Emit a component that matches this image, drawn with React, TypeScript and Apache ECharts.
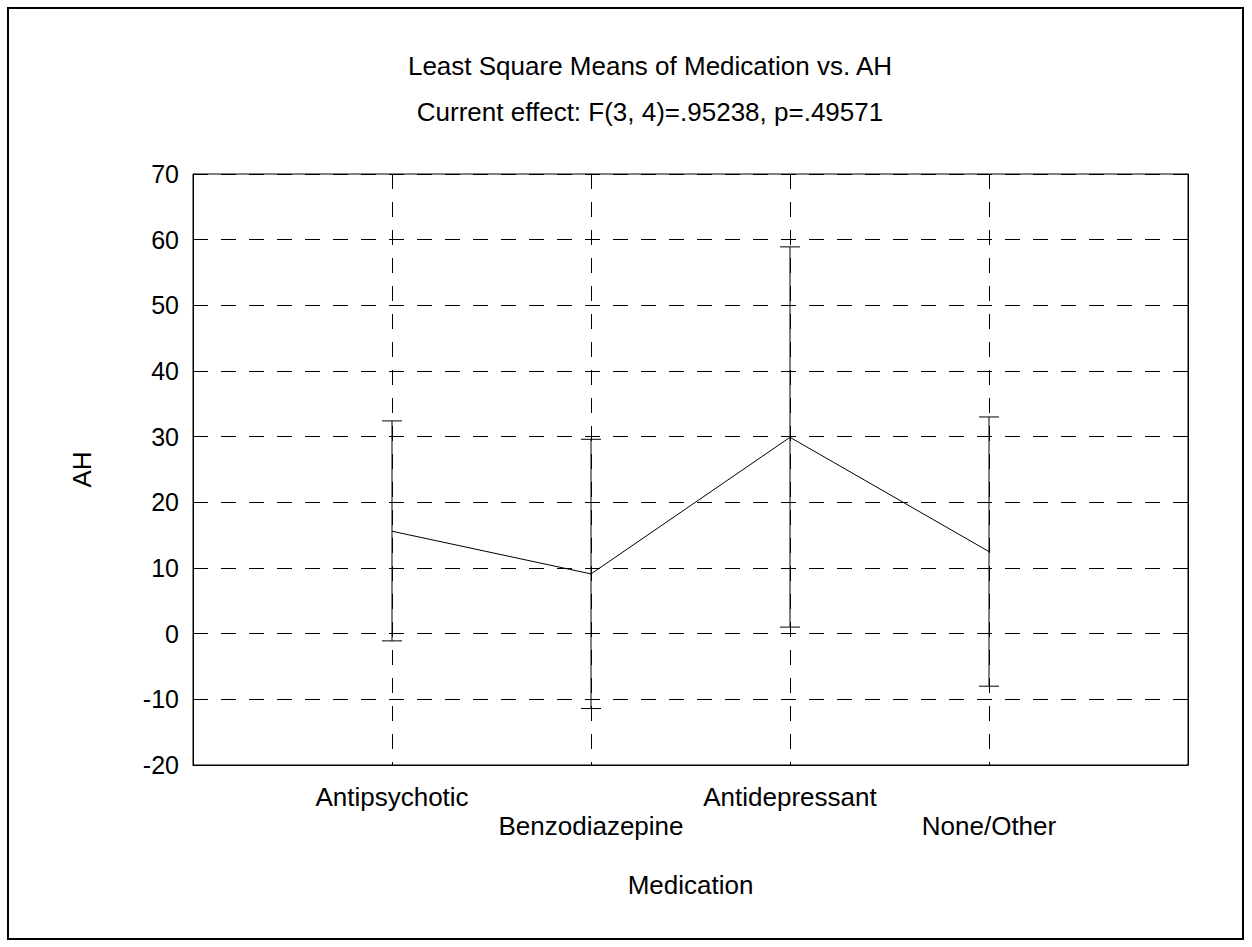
import React, { useEffect, useRef } from "react";
import * as echarts from "echarts";

const titleText = "Least Square Means of Medication vs. AH";
const subtitleText = "Current effect: F(3, 4)=.95238, p=.49571";
const xAxisName = "Medication";
const yAxisName = "AH";
const categories = ["", "Antipsychotic", "Benzodiazepine", "Antidepressant", "None/Other", ""];
const means = [null, 15.6, 9.1, 29.9, 12.5, null];
const lower = [null, -1.1, -11.4, 1.0, -8.0, null];
const upper = [null, 32.4, 29.6, 58.9, 33.0, null];
const yMin = -20;
const yMax = 70;
const yStep = 10;

const FONT = "'Liberation Sans', Arial, sans-serif";

export default function App() {
  const ref = useRef<HTMLDivElement>(null);
  useEffect(() => {
    if (!ref.current) return;
    const chart = echarts.init(ref.current, null, { renderer: "svg" });
    const errData = categories
      .map((c, i) => (means[i] == null ? null : [i, lower[i], upper[i]]))
      .filter((d) => d !== null);
    const dash = [15, 13];
    chart.setOption({
      animation: false,
      backgroundColor: "#fff",
      textStyle: { fontFamily: FONT, color: "#000" },
      title: [
        {
          text: titleText,
          left: 645,
          top: 48,
          textAlign: "center",
          textStyle: { fontFamily: FONT, fontSize: 26, fontWeight: "normal", color: "#000" },
        },
        {
          text: subtitleText,
          left: 645,
          top: 94,
          textAlign: "center",
          textStyle: { fontFamily: FONT, fontSize: 26, fontWeight: "normal", color: "#000" },
        },
      ],
      graphic: [
        {
          type: "rect",
          shape: { x: 8, y: 8, width: 1235, height: 931 },
          style: { fill: "none", stroke: "#000", lineWidth: 2 },
          silent: true,
        },
      ],
      grid: {
        left: 193,
        right: 64,
        top: 174,
        bottom: 182,
        show: true,
        borderColor: "#000",
        borderWidth: 1,
      },
      xAxis: {
        type: "category",
        data: categories,
        boundaryGap: false,
        name: xAxisName,
        nameLocation: "middle",
        nameGap: 107,
        nameTextStyle: { fontFamily: FONT, fontSize: 26, color: "#000" },
        axisLine: { show: true, onZero: false, lineStyle: { color: "#000", width: 1 } },
        axisTick: { show: false },
        axisLabel: {
          interval: 0,
          margin: 17,
          fontFamily: FONT,
          fontSize: 26,
          lineHeight: 29,
          color: "#000",
          formatter: (v: string, i: number) => (i % 2 === 0 ? "\n" + v : v),
        },
        splitLine: {
          show: true,
          interval: (i: number) => i > 0 && i < categories.length - 1,
          lineStyle: { color: "#000", width: 1, type: dash },
        },
      },
      yAxis: [
        {
          type: "value",
          min: yMin,
          max: yMax,
          interval: yStep,
          name: yAxisName,
          nameLocation: "middle",
          nameRotate: 90,
          nameGap: 98,
          nameTextStyle: { fontFamily: FONT, fontSize: 26, color: "#000" },
          axisLine: { show: true, onZero: false, lineStyle: { color: "#000", width: 1 } },
          axisTick: { show: true, inside: true, length: 12, lineStyle: { color: "#000" } },
          axisLabel: { margin: 14, fontFamily: FONT, fontSize: 25, color: "#000" },
          splitLine: { show: true, lineStyle: { color: "#000", width: 1, type: dash } },
        },
        {
          type: "value",
          min: yMin,
          max: yMax,
          interval: yStep,
          position: "right",
          axisLine: { show: true, onZero: false, lineStyle: { color: "#000", width: 1 } },
          axisTick: { show: true, inside: true, length: 3, lineStyle: { color: "#000" } },
          axisLabel: { show: false },
          splitLine: { show: false },
        },
      ],
      series: [
        {
          type: "custom",
          data: errData,
          z: 3,
          renderItem: (params: any, api: any) => {
            const x = api.value(0);
            const lo = api.coord([x, api.value(1)]);
            const hi = api.coord([x, api.value(2)]);
            const w = 10;
            const st = { stroke: "#000", lineWidth: 1 };
            return {
              type: "group",
              children: [
                { type: "line", shape: { x1: lo[0], y1: lo[1], x2: hi[0], y2: hi[1] }, style: st },
                { type: "line", shape: { x1: lo[0] - w, y1: lo[1], x2: lo[0] + w, y2: lo[1] }, style: st },
                { type: "line", shape: { x1: hi[0] - w, y1: hi[1], x2: hi[0] + w, y2: hi[1] }, style: st },
              ],
            };
          },
        },
        {
          type: "line",
          data: means,
          showSymbol: false,
          symbol: "none",
          connectNulls: false,
          lineStyle: { color: "#000", width: 1 },
          z: 4,
        },
      ],
    });
    return () => chart.dispose();
  }, []);
  return (
    <div
      ref={ref}
      style={{ position: "absolute", left: 0, top: 0, width: 1252, height: 947 }}
    />
  );
}
